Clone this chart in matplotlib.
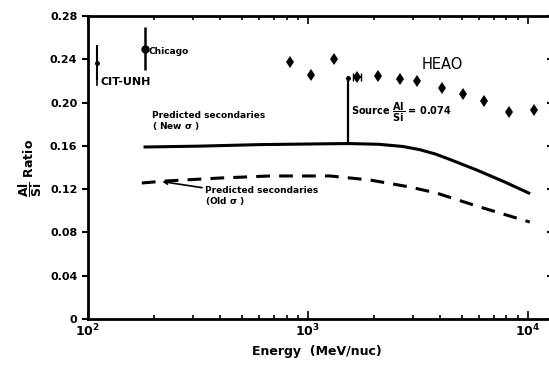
import numpy as np
import matplotlib.pyplot as plt
from matplotlib.ticker import FixedLocator, LogLocator, NullFormatter

# HEAO data points
heao_e = [828, 1032, 1312, 1670, 2080, 2620, 3125, 4060, 5070, 6310, 8200, 10650]
heao_r = [0.238, 0.2255, 0.240, 0.2236, 0.2245, 0.222, 0.220, 0.2135, 0.208, 0.2015, 0.191, 0.193]

# balloon points
chicago_e, chicago_r, chicago_err = 182, 0.250, 0.020
cit_e, cit_r, cit_err = 110, 0.237, 0.016

# predicted secondaries, new cross sections
new_e = [182, 323, 605, 1520, 2100, 2700, 3230, 3800, 4420, 5860, 7860, 10100]
new_r = [0.159, 0.1598, 0.1612, 0.1622, 0.1615, 0.1595, 0.1565, 0.1525, 0.1475, 0.1377, 0.1266, 0.1164]

# predicted secondaries, old cross sections
old_e = [176, 224, 398, 672, 1260, 1910, 2910, 3850, 5860, 10200]
old_r = [0.1257, 0.1275, 0.1303, 0.1322, 0.1322, 0.1285, 0.122, 0.1164, 0.1044, 0.0896]

# source contribution marker
src_e = 1520
src_lo, src_hi = 0.1622, 0.2227

yticks = [0, 0.04, 0.08, 0.12, 0.16, 0.20, 0.24, 0.28]
ylabels = ['0', '0.04', '0.08', '0.12', '0.16', '0.20', '0.24', '0.28']

plt.rcParams['font.family'] = 'DejaVu Sans'
plt.rcParams['font.weight'] = 'bold'
plt.rcParams['mathtext.default'] = 'bf'

fig = plt.figure(figsize=(5.49, 3.67), dpi=100)
ax = fig.add_axes([0.160, 0.131, 0.836, 0.825])

ax.plot(heao_e, heao_r, 'd', color='black', markersize=6, markeredgewidth=0)
ax.errorbar([heao_e[3]], [heao_r[3]], xerr=[[70], [70]], fmt='none', ecolor='black',
            elinewidth=1.2, capsize=3)
ax.errorbar([chicago_e], [chicago_r], yerr=chicago_err, fmt='o', color='black',
            markersize=5, elinewidth=1.8, capsize=0)
ax.errorbar([cit_e], [cit_r], yerr=cit_err, fmt='o', color='black',
            markersize=2.5, elinewidth=1.5, capsize=0)
ax.plot([cit_e, cit_e], [cit_r - cit_err, cit_r - 0.021], color='black', lw=1.2)

ax.plot(new_e, new_r, '-', color='black', lw=2.2)
ax.plot(old_e, old_r, color='black', lw=2.2, dashes=(4.5, 3))
ax.plot([src_e, src_e], [src_lo, src_hi], color='black', lw=1.6)
ax.plot([src_e], [src_hi], 'o', color='black', markersize=2.5)

ax.set_xscale('log')
ax.set_xlim(100, 12200)
ax.set_ylim(0, 0.28)
ax.set_yticks(yticks)
ax.set_yticklabels(ylabels, fontsize=8, fontweight='bold')
ax.xaxis.set_major_locator(FixedLocator([1e2, 1e3, 1e4]))
ax.xaxis.set_minor_locator(LogLocator(base=10, subs=np.arange(2, 10)))
ax.xaxis.set_minor_formatter(NullFormatter())
ax.set_xticklabels([r'$\mathbf{10^2}$', r'$\mathbf{10^3}$', r'$\mathbf{10^4}$'], fontsize=9)

for s in ['left', 'bottom', 'top']:
    ax.spines[s].set_linewidth(2)
ax.spines['right'].set_visible(False)
ax.tick_params(axis='x', which='both', direction='in', top=True, width=1.2)
ax.tick_params(axis='x', which='major', length=6, pad=3)
ax.tick_params(axis='x', which='minor', length=3)
ax.tick_params(axis='y', which='major', direction='out', length=4, width=1.5, right=True)

ax.set_xlabel('Energy  (MeV/nuc)', fontsize=9, fontweight='bold', labelpad=4)
ax.set_ylabel(r'$\dfrac{Al}{Si}$ Ratio', fontsize=9, fontweight='bold', labelpad=4)

ax.text(188, 0.247, 'Chicago', fontsize=6.5, fontweight='bold', va='center')
ax.text(114, 0.219, 'CIT-UNH', fontsize=8, fontweight='bold', va='center')
ax.text(3300, 0.235, 'HEAO', fontsize=10.5, fontweight='normal', va='center')
ax.text(195, 0.183, 'Predicted secondaries\n( New $\\sigma$ )', fontsize=6.5,
        fontweight='bold', va='center', linespacing=1.0)
ax.text(1570, 0.1905, r'Source $\dfrac{Al}{Si}$ = 0.074', fontsize=7,
        fontweight='bold', va='center')
ax.annotate('Predicted secondaries\n(Old $\\sigma$ )', xy=(218, 0.127), xytext=(340, 0.113),
            fontsize=6.5, fontweight='bold', va='center', linespacing=1.0,
            arrowprops=dict(arrowstyle='->', color='black', lw=1.2,
                            shrinkA=0, shrinkB=0))

fig.savefig('out.png', dpi=100)
